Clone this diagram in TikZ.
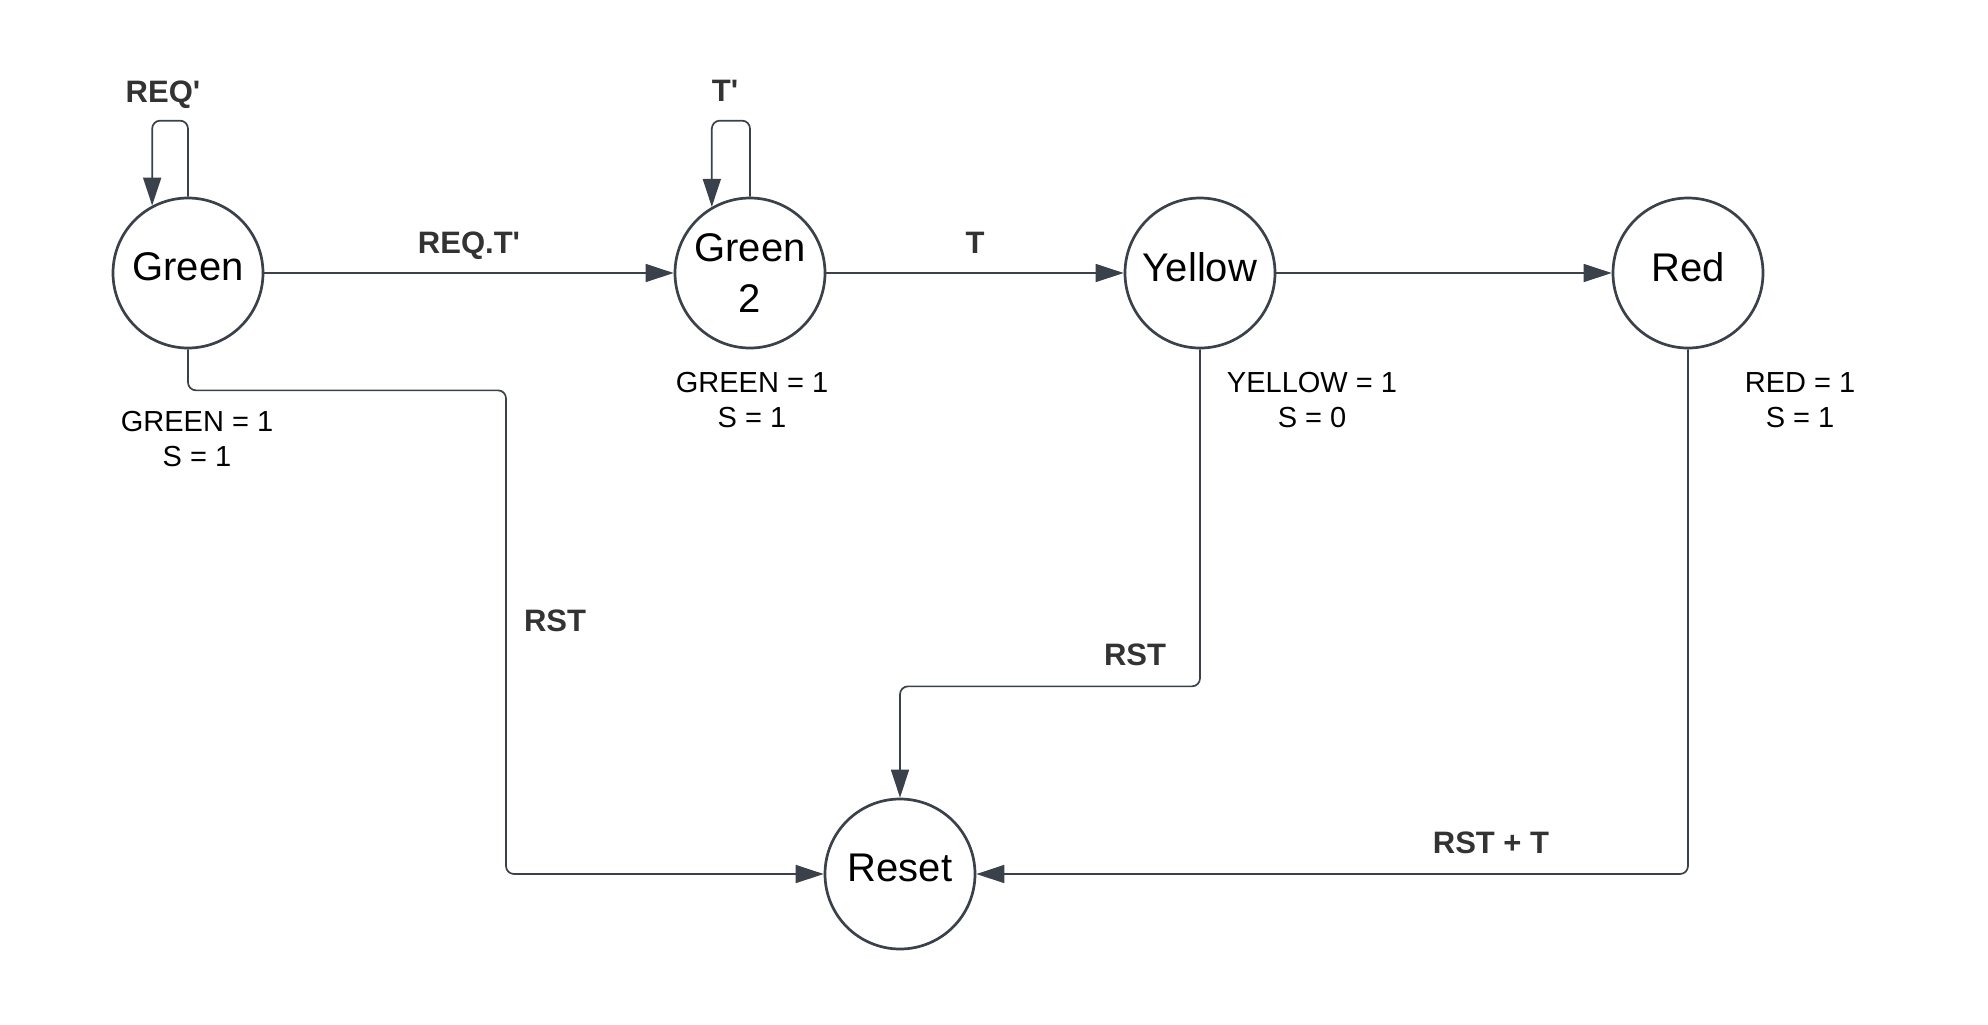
\documentclass[tikz,border=0pt]{standalone}
\usepackage{fontspec}
\setmainfont{Liberation Sans}
\usepackage{tikz}
\usetikzlibrary{shapes.geometric, arrows.meta}
\definecolor{linegray}{HTML}{3A414A}
\definecolor{labelgray}{HTML}{333333}
\tikzstyle{state} = [circle, minimum size=75pt, inner sep=0pt, draw=linegray, line width=1.35pt, text=black, align=center, font=\fontsize{20}{25.5}\selectfont]
\tikzstyle{oneline} = [state, text depth=6pt]
\tikzstyle{cond} = [anchor=base, text=labelgray, font=\fontsize{15.5}{18}\selectfont\bfseries]
\tikzstyle{outlabel} = [text=black, align=center, font=\fontsize{14.5}{17.5}\selectfont]
\tikzstyle{arrow} = [draw=linegray, line width=0.85pt, rounded corners=4pt, -{Triangle[length=14pt,width=9pt]}]

\begin{document}
\begin{tikzpicture}[x=0.5pt, y=-0.5pt, node distance=225pt]
  \useasboundingbox (0,0) rectangle (1988,1024);

  \node (green) [oneline] at (188,273) {Green};
  \node (green2) [state, right of=green, xshift=56pt] {Green\\2};
  \node (yellow) [oneline, right of=green2] {Yellow};
  \node (red) [oneline, right of=yellow, xshift=19pt] {Red};
  \node (reset) [oneline, below of=green2, xshift=75pt, yshift=-75.5pt] {Reset};

  \draw [arrow] (green.north) -- ++(0,-76) -| (green.118);
  \draw [arrow] (green2.north) -- ++(0,-76) -| (green2.120);
  \draw [arrow] (green.east) -- node [cond, yshift=10pt] {REQ.T\textquotesingle} (green2.west);
  \draw [arrow] (green2.east) -- node [cond, yshift=10pt] {T} (yellow.west);
  \draw [arrow] (yellow.east) -- (red.west);
  \draw [arrow] (green.south) -- ++(0,41) -- ++(318,0) |- (reset.west);
  \draw [arrow] (yellow.south) -- ++(0,337) -| (reset.north);
  \draw [arrow] (red.south) |- (reset.east);

  \node [cond] at (163,102) {REQ\textquotesingle};
  \node [cond] at (725,101) {T\textquotesingle};
  \node [cond] at (555,631) {RST};
  \node [cond] at (1135,665) {RST};
  \node [cond] at (1491,853) {RST + T};

  \node [outlabel] at (197,439) {GREEN = 1\\S = 1};
  \node [outlabel] at (752,400) {GREEN = 1\\S = 1};
  \node [outlabel] at (1312,400) {YELLOW = 1\\S = 0};
  \node [outlabel] at (1800,400) {RED = 1\\S = 1};

\end{tikzpicture}
\end{document}
